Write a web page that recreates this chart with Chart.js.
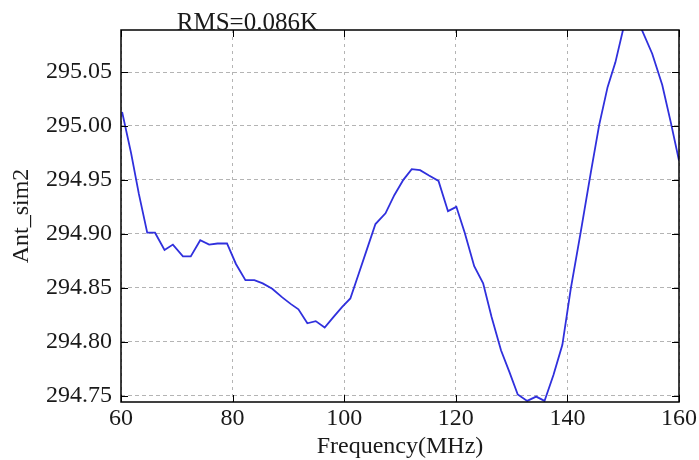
<!DOCTYPE html>
<html>
<head>
<meta charset="utf-8">
<script src="https://cdn.jsdelivr.net/npm/chart.js@4/dist/chart.umd.min.js"></script>
<style>
  html, body { margin: 0; padding: 0; background: #fff; }
</style>
</head>
<body>
<canvas id="antChart" width="699" height="460"></canvas>
<script>
const freq = [60.2, 61.8, 63.2, 64.7, 66.1, 67.8, 69.3, 71.1, 72.5, 74.2, 75.8, 77.3, 79.0, 80.6, 82.3, 83.9,
  85.4, 87.1, 88.9, 90.4, 91.8, 93.4, 94.9, 96.5, 98.1, 99.6, 101.1, 102.6, 104.1, 105.6, 107.4, 109.0,
  110.6, 112.1, 113.6, 115.2, 116.9, 118.6, 120.1, 121.6, 123.3, 124.9, 126.4, 128.1, 129.6, 131.1, 132.8, 134.4,
  135.9, 137.5, 139.1, 140.6, 142.4, 144.2, 145.7, 147.2, 148.6, 150.1, 151.6, 153.1, 155.2, 157.0, 158.5, 160.0];
const antSim2 = [295.013, 294.975, 294.937, 294.901, 294.901, 294.885, 294.890, 294.879, 294.879, 294.894, 294.890, 294.891, 294.891, 294.872, 294.857, 294.857,
  294.854, 294.849, 294.841, 294.835, 294.830, 294.817, 294.819, 294.813, 294.823, 294.832, 294.840, 294.863, 294.886, 294.909, 294.919, 294.936,
  294.950, 294.960, 294.959, 294.954, 294.949, 294.921, 294.925, 294.901, 294.870, 294.854, 294.823, 294.792, 294.772, 294.751, 294.745, 294.749,
  294.745, 294.769, 294.797, 294.849, 294.902, 294.957, 295.001, 295.036, 295.059, 295.092, 295.096, 295.092, 295.067, 295.038, 295.004, 294.968];
const xTicks = [60, 80, 100, 120, 140, 160];
const yTicks = [294.75, 294.80, 294.85, 294.90, 294.95, 295.00, 295.05];
const rmsText = "RMS=0.086K";

const serif = '"Liberation Serif", "DejaVu Serif", serif';

// box round the plot, inward ticks on all four sides, RMS note
const framePlugin = {
  id: "frame",
  afterDraw(chart) {
    const { ctx, chartArea: a, scales } = chart;
    const x = scales.x, y = scales.y;
    ctx.save();
    ctx.strokeStyle = "#000";
    ctx.lineWidth = 1;
    ctx.beginPath();
    xTicks.forEach(v => {
      const px = Math.round(x.getPixelForValue(v)) + 0.5;
      ctx.moveTo(px, a.bottom); ctx.lineTo(px, a.bottom - 7);
      ctx.moveTo(px, a.top); ctx.lineTo(px, a.top + 7);
    });
    yTicks.forEach(v => {
      const py = Math.round(y.getPixelForValue(v)) + 0.5;
      ctx.moveTo(a.left, py); ctx.lineTo(a.left + 7, py);
      ctx.moveTo(a.right, py); ctx.lineTo(a.right - 7, py);
    });
    ctx.stroke();
    ctx.lineWidth = 1.5;
    ctx.strokeRect(a.left, a.top, a.right - a.left, a.bottom - a.top);

    ctx.fillStyle = "#1a1a1a";
    ctx.font = "25px " + serif;
    ctx.textAlign = "left";
    ctx.textBaseline = "alphabetic";
    ctx.fillText(rmsText, x.getPixelForValue(70), a.top);
    ctx.restore();
  }
};

new Chart(document.getElementById("antChart"), {
  type: "line",
  data: {
    datasets: [{
      label: "Ant_sim2",
      data: freq.map((f, i) => ({ x: f, y: antSim2[i] })),
      borderColor: "#3030dd",
      borderWidth: 1.8,
      pointRadius: 0,
      tension: 0,
      fill: false
    }]
  },
  options: {
    responsive: false,
    animation: false,
    layout: { padding: { top: 30, right: 17, left: 0, bottom: 0 } },
    plugins: {
      legend: { display: false },
      tooltip: { enabled: false }
    },
    scales: {
      x: {
        type: "linear",
        min: 60,
        max: 160,
        afterFit: s => { s.height = 58; },
        afterBuildTicks: s => { s.ticks = xTicks.map(v => ({ value: v })); },
        grid: { color: "#b4b4b4", lineWidth: 1, drawTicks: false },
        border: { display: false, dash: [3, 4] },
        ticks: {
          padding: 2,
          color: "#1a1a1a",
          font: { family: serif, size: 24 },
          maxRotation: 0,
          callback: v => String(v)
        },
        title: {
          display: true,
          text: "Frequency(MHz)",
          color: "#1a1a1a",
          font: { family: serif, size: 24, lineHeight: 1 },
          padding: { top: 0, bottom: 1 }
        }
      },
      y: {
        min: 294.744,
        max: 295.089,
        afterFit: s => { s.width = 121; },
        afterBuildTicks: s => { s.ticks = yTicks.map(v => ({ value: v })); },
        grid: { color: "#b4b4b4", lineWidth: 1, drawTicks: false },
        border: { display: false, dash: [4, 3] },
        ticks: {
          padding: 9,
          color: "#1a1a1a",
          font: { family: serif, size: 24 },
          callback: v => v.toFixed(2)
        },
        title: {
          display: true,
          text: "Ant_sim2",
          color: "#1a1a1a",
          font: { family: serif, size: 24, lineHeight: 1 },
          padding: { top: 10, bottom: 0 }
        }
      }
    }
  },
  plugins: [framePlugin]
});
</script>
</body>
</html>
